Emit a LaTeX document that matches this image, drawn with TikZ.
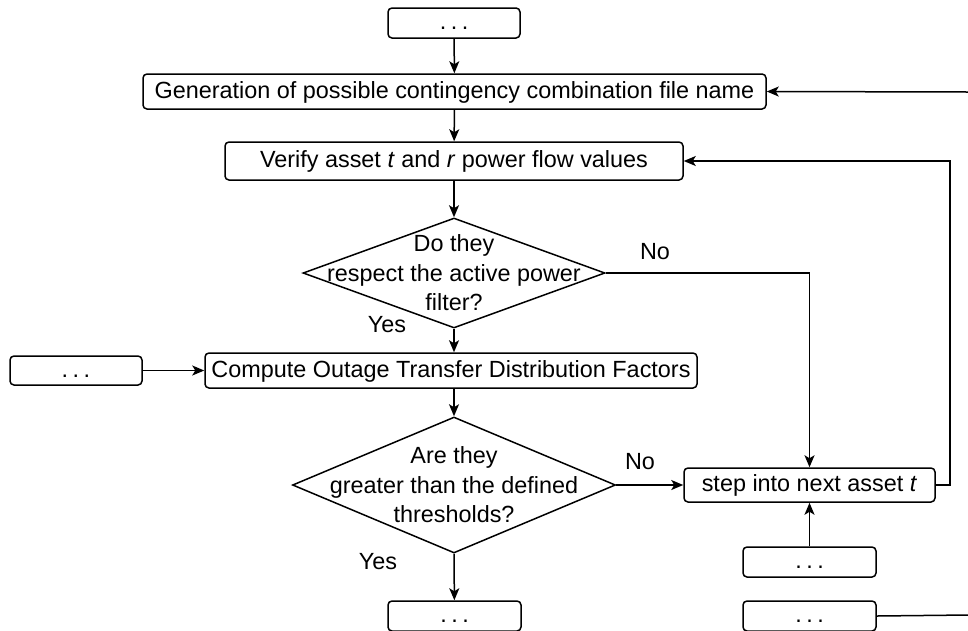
\documentclass[tikz,border=0pt]{standalone}
\usepackage{fontspec}
\setmainfont{Liberation Sans}
\usepackage{tikz}
\usetikzlibrary{calc,shapes.geometric,arrows.meta}
\newcommand{\gapdots}{.\hspace{4.5pt}.\hspace{4.5pt}.}
\tikzset{
    stepbox/.style={
        draw, rectangle, rounded corners=4pt,
        line width=1.5pt, inner sep=0pt,
        text height=16pt, text depth=3pt, text=black
    },
    decision/.style={
        draw, diamond, line width=1.5pt,
        inner sep=-40pt, align=center, text=black
    },
    answer/.style={inner sep=0pt, text=black},
    connect/.style={-{Stealth[length=12pt,width=10pt,inset=3pt]}, line width=1.5pt},
    plain/.style={line width=1.5pt},
    every node/.append style={font=\fontsize{23.4}{29.5}\selectfont}
}

\begin{document}
\begin{tikzpicture}[x=1pt,y=-1pt]
	\useasboundingbox (0,0) rectangle (968,630);

	\node[stepbox, minimum width=132pt, minimum height=30pt] (top) at (454,23) {\gapdots};
	\node[stepbox, minimum width=623pt, minimum height=35pt] (gen) at (454.5,91.5)
		{Generation of possible contingency combination file name};
	\node[stepbox, minimum width=458pt, minimum height=38pt] (verify) at (454,161)
		{Verify asset \textit{t} and \textit{r} power flow values};
	\node[decision, shape aspect=2.745, minimum width=302pt, minimum height=110pt] (filter) at (454,273)
		{Do they\\respect the active power\\filter?};
	\node[stepbox, minimum width=492pt, minimum height=35pt] (otdf) at (451,370.5)
		{Compute Outage Transfer Distribution Factors};
	\node[stepbox, minimum width=132pt, minimum height=29pt] (otdfin) at (76,370.5) {\gapdots};
	\node[decision, shape aspect=2.375, minimum width=323pt, minimum height=136pt] (thresh) at (454,485)
		{Are they\\greater than the defined\\thresholds?};
	\node[stepbox, minimum width=251pt, minimum height=34pt] (next) at (809.5,485)
		{step into next asset \textit{t}};
	\node[stepbox, minimum width=133pt, minimum height=30pt] (nextin) at (809.5,562) {\gapdots};
	\node[stepbox, minimum width=133pt, minimum height=30pt] (yesout) at (454.5,616) {\gapdots};
	\node[stepbox, minimum width=133pt, minimum height=30pt] (noout) at (809.5,616) {\gapdots};

	% answers
	\node[answer] (filterno) at (655,252) {No};
	\node[answer] (filteryes) at (387,325) {Yes};
	\node[answer] (threshno) at (640,462) {No};
	\node[answer] (threshyes) at (378,562) {Yes};

	\coordinate (genin) at (968,92);
	\coordinate (noend) at (968,615);

	\draw[connect] (top) -- (gen);
	\draw[connect] (genin) -- (gen.east);
	\draw[connect] (gen) -- (verify);
	\draw[connect] (verify) -- (filter);
	\draw[connect] (filter.south) -- (filter.south |- otdf.north);
	\draw[connect] (filter.east) -| (next.north);
	\draw[connect] (otdfin) -- (otdf);
	\draw[connect] (thresh.north |- otdf.south) -- (thresh.north);
	\draw[connect] (thresh.east) -- (next.west);
	\draw[connect] (next.east) -- ++(14,0) |- (verify.east);
	\draw[connect] (nextin) -- (next);
	\draw[connect] (thresh.south) -- (yesout);
	\draw[plain] (noout.east) -- (noend);
\end{tikzpicture}
\end{document}
